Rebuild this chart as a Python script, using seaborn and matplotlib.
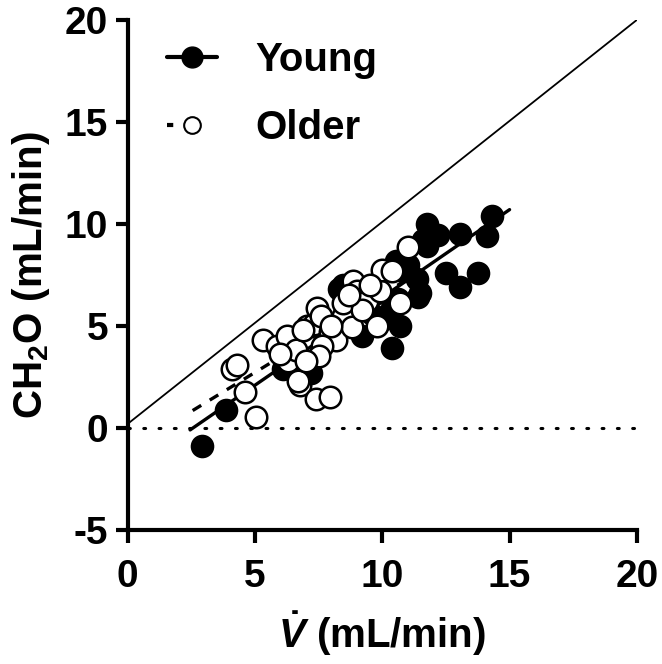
import matplotlib
matplotlib.use("Agg")
import matplotlib.pyplot as plt
from matplotlib.lines import Line2D
import seaborn as sns
import pandas as pd

# ---------------- data ----------------
young_x = [2.9, 3.85, 6.1, 7.2, 8.45, 8.3, 10.4, 10.4, 10.7, 10.0, 9.2, 9.6, 10.55,
           10.6, 10.8, 11.0, 11.35, 11.5, 11.4, 11.75, 11.6, 11.75, 12.2, 13.05, 14.1,
           14.3, 12.5, 13.05, 13.75, 9.8, 7.8, 6.9, 8.7]
young_y = [-0.9, 0.9, 2.9, 2.7, 7.0, 6.8, 3.9, 5.9, 5.0, 5.3, 4.5, 5.6, 8.2,
           6.3, 7.7, 8.0, 7.3, 6.6, 6.4, 10.0, 9.2, 8.9, 9.45, 9.5, 9.4,
           10.4, 7.6, 6.9, 7.6, 6.6, 4.3, 3.0, 5.5]

older_x = [4.1, 4.3, 4.6, 5.05, 5.3, 5.85, 6.25, 6.3, 6.6, 6.75, 6.7, 7.4, 7.95,
           7.05, 7.3, 7.45, 7.95, 8.2, 7.65, 7.5, 8.45, 8.45, 8.8, 8.85, 9.0, 9.4,
           9.2, 9.8, 9.9, 10.0, 10.4, 10.7, 11.0, 6.9, 7.6, 8.0, 8.7, 6.0, 7.0, 9.5]
older_y = [2.9, 3.1, 1.75, 0.55, 4.3, 4.0, 4.5, 3.3, 3.8, 2.1, 2.3, 1.4, 1.5,
           5.0, 5.1, 5.9, 4.7, 4.3, 4.0, 3.5, 5.5, 6.1, 4.95, 7.2, 6.7, 6.2,
           5.8, 5.0, 6.7, 7.75, 7.7, 6.1, 8.85, 4.8, 5.5, 5.0, 6.5, 3.6, 3.3, 7.0]

young_fit_x = [2.45, 15.0]
young_fit_y = [-0.1, 10.7]
older_fit_x = [2.55, 11.0]
older_fit_y = [0.85, 7.3]

identity_x = [0.0, 20.0]
identity_y = [0.2, 20.0]
zero_x = [0.0, 20.0]
zero_y = [0.0, 0.0]

x_ticks = [0, 5, 10, 15, 20]
y_ticks = [-5, 0, 5, 10, 15, 20]
legend_labels = ["Young", "Older"]

# ---------------- style ----------------
sns.set_style("ticks")
plt.rcParams['font.family'] = ['Liberation Sans', 'DejaVu Sans']
plt.rcParams['font.weight'] = 'bold'
plt.rcParams['text.color'] = 'black'
plt.rcParams['axes.labelcolor'] = 'black'
plt.rcParams['xtick.color'] = 'black'
plt.rcParams['ytick.color'] = 'black'
plt.rcParams['axes.edgecolor'] = 'black'
plt.rcParams['mathtext.fontset'] = 'custom'
plt.rcParams['mathtext.rm'] = 'Liberation Sans:bold'
plt.rcParams['mathtext.bf'] = 'Liberation Sans:bold'
plt.rcParams['mathtext.it'] = 'Liberation Sans:bold:italic'
plt.rcParams['mathtext.default'] = 'rm'

fig = plt.figure(figsize=(6.62, 6.64), dpi=100)
ax = fig.add_axes([0.193, 0.202, 0.769, 0.768])

young_df = pd.DataFrame({"x": young_x, "y": young_y})
older_df = pd.DataFrame({"x": older_x, "y": older_y})

sns.lineplot(x=identity_x, y=identity_y, ax=ax, color="black", lw=1.3, zorder=1)
sns.lineplot(x=zero_x, y=zero_y, ax=ax, color="black", lw=2.2,
             linestyle=(0, (0.6, 4.4)), dash_capstyle="round", zorder=1)

sns.scatterplot(data=young_df, x="x", y="y", ax=ax, s=240, color="black",
                edgecolor="black", linewidth=1.5, zorder=3)
sns.lineplot(x=young_fit_x, y=young_fit_y, ax=ax, color="black", lw=2.4, zorder=4)
sns.scatterplot(data=older_df, x="x", y="y", ax=ax, s=240, color="white",
                edgecolor="black", linewidth=1.8, zorder=5)
sns.lineplot(x=older_fit_x, y=older_fit_y, ax=ax, color="black", lw=2.4,
             linestyle=(0, (3, 3)), zorder=2)

ax.set_xlim(0, 20)
ax.set_ylim(-5, 20)
ax.set_xticks(x_ticks)
ax.set_yticks(y_ticks)
ax.set_xticklabels([str(t) for t in x_ticks], fontsize=28, fontweight='bold')
ax.set_yticklabels([str(t) for t in y_ticks], fontsize=28, fontweight='bold')
ax.tick_params(axis='both', length=9, width=3, direction='out')
ax.tick_params(axis='x', pad=12)
ax.tick_params(axis='y', pad=5)
for sp in ['left', 'bottom']:
    ax.spines[sp].set_linewidth(3)
sns.despine(ax=ax)

ax.set_xlabel(r'$\mathit{\dot{V}}$ (mL/min)', fontsize=29, fontweight='bold', labelpad=10)
ax.set_ylabel(r'CH$_{2}$O (mL/min)', fontsize=29, fontweight='bold', labelpad=9)

handles = [
    Line2D([], [], color='black', lw=3, marker='o', markersize=15,
           markerfacecolor='black', markeredgecolor='black'),
    Line2D([], [], color='black', lw=3, linestyle=(0, (1.5, 4.5)), marker='o',
           markersize=12, markerfacecolor='white', markeredgecolor='black',
           markeredgewidth=1.5),
]
leg = ax.legend(handles, legend_labels, loc='upper left', frameon=False,
                prop={'size': 29, 'weight': 'bold'}, handlelength=1.25,
                labelspacing=0.75, handletextpad=0.95, borderaxespad=0.0,
                bbox_to_anchor=(0.045, 0.99))

fig.savefig("out.png", dpi=100)
